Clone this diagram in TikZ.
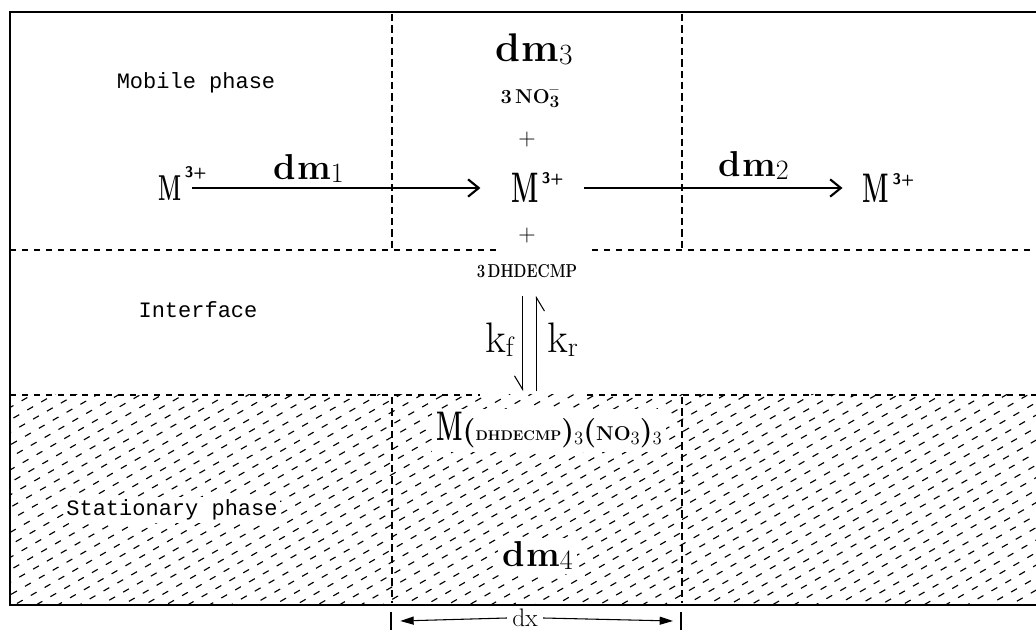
\documentclass[tikz,border=0pt]{standalone}
\usepackage{fontspec}
\usepackage{graphicx}
\newfontfamily\monof{Liberation Mono}
\usetikzlibrary{arrows.meta}
\newcommand{\Mion}[2]{{\fontsize{#1}{#1}\selectfont\scalebox{0.6}[1]{\bfseries M}}\rlap{\smash{\raisebox{#2}{\kern2.5pt\fontsize{11.5}{12}\selectfont\sffamily\bfseries 3+}}}}
\newcommand{\dmm}[3]{{\fontsize{#1}{#1}\selectfont\bfseries d\kern1pt m}\raisebox{-2pt}{\fontsize{#2}{#2}\selectfont #3}}
\newcommand{\sz}[1]{\fontsize{#1}{#1}\selectfont}
\begin{document}
\begin{tikzpicture}[x=0.75pt,y=-0.75pt,
  frame/.style={line width=1.1pt},
  hdash/.style={line width=0.9pt, dash pattern=on 4.5pt off 4.5pt},
  vdash/.style={line width=1.8pt, dash pattern=on 5.5pt off 3pt},
  flow/.style={line width=1.4pt, -{Straight Barb[length=8pt,width=13pt,line width=1.6pt]}},
  rate/.style={line width=0.8pt, -{Straight Barb[right,length=10pt,width=12pt]}},
  dim/.style={line width=0.8pt, -{Triangle[length=10pt,width=6pt]}},
  txt/.style={inner sep=0pt},
  mono/.style={inner sep=0pt, font=\monof\sz{16.5}},
  hatch/.style={line width=0.85pt, dash pattern=on 5pt off 7pt},
  white label/.style={fill=white, inner sep=3pt}]
\useasboundingbox (0,0) rectangle (1036,630);
\fill[white] (0,0) rectangle (1036,630);

% hatching of the stationary phase
\begin{scope}
  \clip (10,395) rectangle (1036,605);
  \foreach \c [count=\i] in {395,407.5,...,1210} {
    \pgfmathsetmacro\ph{mod(\i*7,12)}
    \draw[hatch, dash phase=\ph pt] (10,\c) -- ++(1040,-600.4);
  }
\end{scope}

% frame and boundaries
\draw[frame] (1036,12) -- (10,12) -- (10,605) -- (1036,605);
\draw[hdash] (10,250) -- (498,250);
\draw[hdash] (592,250) -- (1036,250);
\draw[hdash] (10,395) -- (480,395);
\draw[hdash] (587,395) -- (1036,395);
\draw[vdash] (392,14) -- (392,250);
\draw[vdash] (682,14) -- (682,250);
\draw[vdash] (392,397) -- (392,603);
\draw[vdash] (682,397) -- (682,603);

% region labels
\node[mono] (mob) at (196,83) {Mobile phase};
\node[mono] (intf) at (198,310) {Interface};
\node[mono, fill=white, inner sep=2pt] (stat) at (172,510) {Stationary phase};

% mobile phase species
\node[txt] (ML) at (170,188) {\Mion{27}{17pt}};
\node[txt] (Mc) at (525,188) {\Mion{32}{14pt}};
\node[txt] (MR) at (876,188) {\Mion{31}{13.5pt}};
\draw[flow] ([xshift=8pt]ML.east) -- ([xshift=-23pt]Mc.west);
\draw[flow] ([xshift=34pt]Mc.east) -- ([xshift=-15pt]MR.west);

\node[txt, anchor=base west] (dm1) at (273,180) {\dmm{27}{21}{1}};
\node[txt, anchor=base west] (dm2) at (718,177) {\dmm{27}{21}{2}};
\node[txt, anchor=base west] (dm3) at (495,62) {\dmm{30}{22}{3}};

\node[txt, anchor=base] (no3) at (530,104) {\sz{15}\bfseries 3\,NO\rlap{\raisebox{7pt}{\sz{12}--}}\raisebox{-3pt}{\sz{13}3}};
\node[txt] (p1) at (527,140) {\sz{18}+};
\node[txt] (p2) at (527,236) {\sz{18}+};
\node[txt, anchor=base] (dhd) at (527,278) {\scalebox{0.8}[1]{\sz{14}\bfseries 3\,DHDECMP}};

% rate constants
\node[txt, anchor=base west] (kf) at (485,353) {\sz{32}k\raisebox{-3pt}{\sz{21}f}};
\node[txt, anchor=base west] (kr) at (547,353) {\sz{32}k\raisebox{-3pt}{\sz{21}r}};

% stationary phase species
\node[txt, white label, anchor=base west] (cplx) at (432,441) {{\sz{31}\scalebox{0.6}[1]{\bfseries M}}{\sz{22}\bfseries(}{\sz{10.5}\bfseries DHDECMP}{\sz{22}\bfseries)}\raisebox{-3pt}{\sz{14}3}{\sz{22}\bfseries(}{\sz{15}\bfseries NO}\raisebox{-3pt}{\sz{14}3}{\sz{22}\bfseries)}\raisebox{-3pt}{\sz{14}3}};
\node[txt, white label, anchor=base west] (dm4) at (498,567) {\dmm{27}{21}{4}};

\draw[rate, shorten <=13pt, shorten >=13pt] ([xshift=-3.4pt]dhd.south) -- ([xshift=-3.4pt]dhd.south |- cplx.north);
\draw[rate, shorten <=13pt, shorten >=13pt] ([xshift=7.1pt]dhd.south |- cplx.north) -- ([xshift=7.1pt]dhd.south);

% dimension dx
\coordinate (tl) at (391,621);
\coordinate (tr) at (681,621);
\draw[line width=0.8pt] ([yshift=7pt]tl) -- ([yshift=-7pt]tl);
\draw[line width=0.8pt] ([yshift=7pt]tr) -- ([yshift=-7pt]tr);
\node[txt] (dx) at (525,618) {\sz{19}dx};
\draw[dim] ([xshift=-4pt]dx.west) -- ([xshift=7pt]tl);
\draw[dim] ([xshift=4pt]dx.east) -- ([xshift=-6pt]tr);
\end{tikzpicture}
\end{document}
